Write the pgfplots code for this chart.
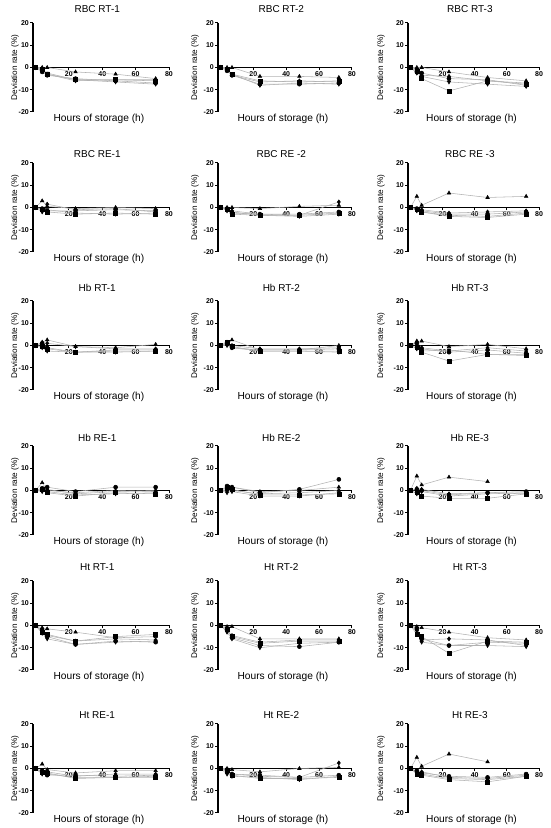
\documentclass[border=0pt]{standalone}
\usepackage{fontspec}
\setmainfont{Liberation Sans}
\usepackage{pgfplots}
\usepackage{pgfplotstable}
\pgfplotsset{compat=1.18}

% columns: t s1(square) s2(circle) s3(triangle up) s4(triangle down) s5(diamond)
\pgfplotstableread{
t s1 s2 s3 s4 s5
0 0 0 0 0 0
4 -1 -2 0 -1.5 -1
7 -3 -3.5 0 -2.5 -3
24 -5.5 -5 -2 -5.5 -6
48 -5.5 -6 -3 -6.5 -5.5
72 -6 -7 -5 -7.5 -5.5
}\tA
\pgfplotstableread{
t s1 s2 s3 s4 s5
0 0 0 0 0 0
4 -1 -1.5 0 -0.5 -1
7 -3 -3.5 0 -3 -3.5
24 -6 -7.5 -4 -8 -6.5
48 -6.5 -7.5 -4 -7 -6
72 -6 -7 -4.5 -7.5 -6.5
}\tB
\pgfplotstableread{
t s1 s2 s3 s4 s5
0 0 0 0 0 0
4 -1.5 -2 0 -1 -2.5
7 -5 -2.5 0 -4 -3.5
24 -10.5 -5 -2 -6.5 -4
48 -6 -5.5 -4.5 -7.5 -6
72 -7.5 -8 -6 -8.5 -7
}\tC
\pgfplotstableread{
t s1 s2 s3 s4 s5
0 0 0 0 0 0
4 -1 -0.5 3 -2 -1
7 -2 -1.5 0.5 -1 1.5
24 -3 -1.5 -0.5 -2.5 -1
48 -2.5 -1 0 -3 -0.5
72 -3 -1.5 -0.5 -2.5 -2
}\tD
\pgfplotstableread{
t s1 s2 s3 s4 s5
0 0 0 0 0 0
4 -1 -0.5 0 -1.5 -1
7 -3 -2.5 0 -2 -1.5
24 -3.5 -3 -0.5 -3.5 -3
48 -3.5 -3 0.5 -4 -3.5
72 -2.5 -2 1 -3 2.5
}\tE
\pgfplotstableread{
t s1 s2 s3 s4 s5
0 0 0 0 0 0
4 -1 -0.5 5 -1.5 -1
7 -2 -1.5 1 -2 -1
24 -4 -3 6.5 -3.5 -2.5
48 -4.5 -3 4.5 -4 -2
72 -3 -2 5 -2.5 -1.5
}\tF
\pgfplotstableread{
t s1 s2 s3 s4 s5
0 0 0 0 0 0
4 -0.5 1 1.5 -1 0.5
7 -1.5 -1 2.5 -2.5 1
24 -3 -3 -0.5 -3 -0.5
48 -2.5 -2 -1 -3 -1.5
72 -2.5 -2 0.5 -2.5 -1.5
}\tG
\pgfplotstableread{
t s1 s2 s3 s4 s5
0 0 0 0 0 0
4 1.5 1.5 0.5 0 1
7 -0.5 -1 2.5 -1 0
24 -2.5 -2 -2 -2.5 -1.5
48 -2.5 -2 -2 -2.5 -1.5
72 -2.5 -1.5 0 -3 -1
}\tH
\pgfplotstableread{
t s1 s2 s3 s4 s5
0 0 0 0 0 0
4 -1 1 2 -1.5 1.5
7 -3 -1.5 2 -2.5 -1
24 -7 -3 -0.5 -2 -2.5
48 -4 -2 0.5 -4 -1
72 -4.5 -3.5 -1.5 -4 -2.5
}\tI
\pgfplotstableread{
t s1 s2 s3 s4 s5
0 0 0 0 0 0
4 0.5 1 3.5 -0.5 0
7 -1 1.5 0 -0.5 0.5
24 -2.5 -0.5 -1 -2 -1.5
48 -1 1.5 0 -1.5 -0.5
72 -1.5 1.5 -0.5 -1 0
}\tJ
\pgfplotstableread{
t s1 s2 s3 s4 s5
0 0 0 0 0 0
4 1.5 2 0.5 -1 0
7 0.5 1.5 1.5 -0.5 0
24 -2 -1 -0.5 -2.5 -1.5
48 -2 0.5 0 -2.5 -1
72 -1.5 5 1.5 -1 0
}\tK
\pgfplotstableread{
t s1 s2 s3 s4 s5
0 0 0 0 0 0
4 -1 0.5 6.5 -1.5 1
7 -2.5 0 2.5 -0.5 0.5
24 -3.5 -2 6 -2.5 -1.5
48 -3.5 -1 4 -1.5 -1
72 -1.5 -0.5 nan -1 -1.5
}\tL
\pgfplotstableread{
t s1 s2 s3 s4 s5
0 0 0 0 0 0
4 -3 -2 -1 -3.5 -2.5
7 -4 -5 -1.5 -6 -4.5
24 -7 -8.5 -3 -8.5 -7
48 -5 -7 -5.5 -7.5 -6
72 -4 -7.5 -5 -7 -6.5
}\tM
\pgfplotstableread{
t s1 s2 s3 s4 s5
0 0 0 0 0 0
4 -1.5 -2 -0.5 -3 -2.5
7 -5 -5.5 -0.5 -6 -4.5
24 -8 -9 -6 -10 -7.5
48 -7 -9.5 -6 -8 -6.5
72 -7 -7.5 -6 -7.5 -6.5
}\tN
\pgfplotstableread{
t s1 s2 s3 s4 s5
0 0 0 0 0 0
4 -4 -1.5 -0.5 -2.5 -1
7 -5 -6 -1 -7.5 -6.5
24 -12.5 -9 -3 -9 -6
48 -7 -7.5 -5.5 -9 -6.5
72 -7.5 -8 -6.5 -9.5 -9
}\tO
\pgfplotstableread{
t s1 s2 s3 s4 s5
0 0 0 0 0 0
4 -1.5 -1 2 -2.5 -2
7 -2 -3 -0.5 -2.5 -1.5
24 -4.5 -3 -2 -4 -3.5
48 -4 -3.5 -1 -4 -2.5
72 -4 -3 -1 -3.5 -2.5
}\tP
\pgfplotstableread{
t s1 s2 s3 s4 s5
0 0 0 0 0 0
4 -1 -0.5 0 -2.5 -1.5
7 -3 -2.5 -0.5 -3.5 -2.5
24 -4.5 -3 -1.5 -4 -3.5
48 -4.5 -4 0 -5 -4
72 -4 -3 0.5 -3.5 2.5
}\tQ
\pgfplotstableread{
t s1 s2 s3 s4 s5
0 0 0 0 0 0
4 -2.5 -1 5 -2 -1.5
7 -3 -2 1 -2.5 -1.5
24 -5 -3.5 6.5 -4.5 -4
48 -6 -4 3 -5 -4.5
72 -3.5 -2.5 nan -3.5 -3
}\tR

\pgfplotsset{
  panel/.style={
    scale only axis, height=89pt,
    xmin=-1.5, xmax=80, ymin=-20, ymax=20,
    axis x line=middle, axis y line=left,
    axis line style={-, line width=1.3pt, black},
    xtick={20,40,60,80}, ytick={-20,-10,0,10,20},
    major tick length=3pt, tick align=outside,
    tick style={line width=1pt, black},
    ticklabel style={font=\bfseries\fontsize{7}{7}\selectfont, inner sep=1pt},
    /pgf/number format/assume math mode=true,
    clip=false,
  },
  ser/.style={draw=gray!60, line width=0.55pt, mark size=2pt,
    mark options={fill=black, draw=black, solid}},
}

% #1 x, #2 y, #3 width, #4 title, #5 title gap, #6 ylabel x (data units), #7 table
\newcommand\panel[7]{%
\begin{axis}[panel, at={(#1pt,#2pt)}, anchor=south west, width=#3pt]
\addplot[ser, mark=square*] table[x=t,y=s1]{#7};
\addplot[ser, mark=*] table[x=t,y=s2]{#7};
\addplot[ser, mark=triangle*] table[x=t,y=s3]{#7};
\addplot[ser, mark=triangle*, mark options={fill=black, draw=black, solid, rotate=180}] table[x=t,y=s4]{#7};
\addplot[ser, mark=diamond*] table[x=t,y=s5]{#7};
\node[rotate=90, font=\fontsize{8.2}{9.6}\selectfont] at (axis cs:#6,0) {Deviation rate (\%)};
\node[font=\fontsize{10.2}{12}\selectfont, yshift=-6.5pt] at (axis cs:38,-20) {Hours of storage (h)};
\node[font=\fontsize{10}{12}\selectfont, yshift=#5pt] at (axis cs:37,20) {#4};
\end{axis}}

\begin{document}
\begin{tikzpicture}
\useasboundingbox (0,0) rectangle (550pt,828pt);
% row 1
\panel{33}{716}{136}{RBC RT-1}{13.5}{-12.3}{\tA}
\panel{218}{716}{134}{RBC RT-2}{13.5}{-15.5}{\tB}
\panel{408}{716}{131}{RBC RT-3}{13.5}{-18.3}{\tC}
% row 2
\panel{33}{576}{136}{RBC RE-1}{8.5}{-12.3}{\tD}
\panel{218}{576}{134}{RBC RE -2}{8.5}{-15.5}{\tE}
\panel{408}{576}{131}{RBC RE -3}{8.5}{-18.3}{\tF}
% row 3
\panel{33}{438}{136}{Hb RT-1}{13.5}{-12.3}{\tG}
\panel{218}{438}{134}{Hb RT-2}{13.5}{-15.5}{\tH}
\panel{408}{438}{131}{Hb RT-3}{13.5}{-18.3}{\tI}
% row 4
\panel{33}{293}{136}{Hb RE-1}{8.5}{-12.3}{\tJ}
\panel{218}{293}{134}{Hb RE-2}{8.5}{-15.5}{\tK}
\panel{408}{293}{131}{Hb RE-3}{8.5}{-18.3}{\tL}
% row 5
\panel{33}{158}{136}{Ht RT-1}{13.5}{-12.3}{\tM}
\panel{218}{158}{134}{Ht RT-2}{13.5}{-15.5}{\tN}
\panel{408}{158}{131}{Ht RT-3}{13.5}{-18.3}{\tO}
% row 6
\panel{33}{15}{136}{Ht RE-1}{8.5}{-12.3}{\tP}
\panel{218}{15}{134}{Ht RE-2}{8.5}{-15.5}{\tQ}
\panel{408}{15}{131}{Ht RE-3}{8.5}{-18.3}{\tR}
\end{tikzpicture}
\end{document}
